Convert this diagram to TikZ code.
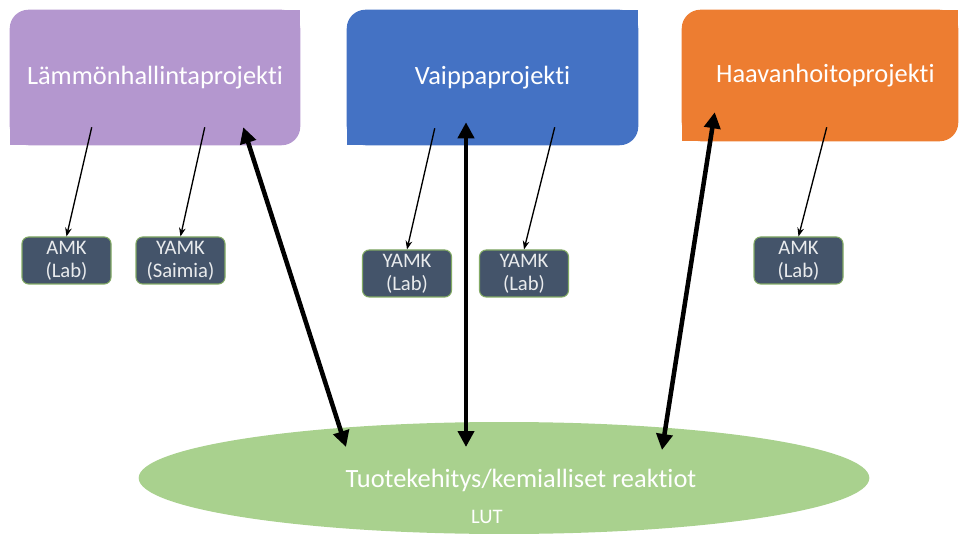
\documentclass[tikz,border=0pt]{standalone}
\usepackage{fontspec}
\setmainfont[Ligatures=NoCommon]{Carlito}
\usetikzlibrary{shapes.geometric,arrows.meta,calc,backgrounds}

\definecolor{lampurple}{RGB}{180,151,207}
\definecolor{vaiblue}{RGB}{68,114,196}
\definecolor{haaorange}{RGB}{237,125,49}
\definecolor{lutgreen}{RGB}{169,209,142}
\definecolor{slate}{RGB}{68,84,106}
\definecolor{slateedge}{RGB}{130,170,100}

\begin{document}
\begin{tikzpicture}[x=0.75pt,y=-0.75pt,
	projbox/.style={minimum height=101.25pt, inner sep=0pt, text=white,
		font=\fontsize{19.8}{23}\selectfont},
	studbox/.style={draw=slateedge, line width=0.8pt, fill=slate, rounded corners=5pt,
		minimum width=66.75pt, minimum height=35.25pt, inner sep=0pt, align=center,
		text=white!88!slate, font=\fontsize{15.5}{17}\selectfont},
	thin/.style={-{Stealth[length=6.5pt,width=5pt]}, line width=1pt},
	bigarrow/.style={{Triangle[length=12pt,width=12pt]}-{Triangle[length=12pt,width=12pt]}, line width=3.4pt}]
	\useasboundingbox (0,0) rectangle (959,534);
	
	% project boxes
	\node[projbox, minimum width=217.5pt] (lam) at (155,77.5) {Lämmönhallintaprojekti};
	\node[projbox, minimum width=218.25pt] (vai) at (492.5,77.5) {Vaippaprojekti};
	\node[projbox, minimum width=207pt, minimum height=98.25pt] (haa) at (820,75.5) {\hspace*{8pt}Haavanhoitoprojekti};
	
	\begin{scope}[on background layer]
		\foreach \b/\c in {lam/lampurple, vai/vaiblue, haa/haaorange}
		{
			\fill[\c, rounded corners=14pt] (\b.south west) rectangle (\b.north east);
			\fill[\c] (\b.south west) rectangle (\b.center);
			\fill[\c] (\b.center) rectangle (\b.north east);
		}
	\end{scope}
	
	% students
	\node[studbox] (amkA) at (66.5,260.5) {AMK\\(Lab)};
	\node[studbox] (yamkS) at (180.5,260.5) {YAMK\\(Saimia)};
	\node[studbox] (yamkA) at (407,273.5) {YAMK\\(Lab)};
	\node[studbox] (yamkB) at (524,273.5) {YAMK\\(Lab)};
	\node[studbox] (amkB) at (798.5,260.5) {AMK\\(Lab)};
	
	% LUT
	\node[ellipse, fill=lutgreen, minimum width=548pt, minimum height=84pt, inner sep=0pt] (tuote) at (504,478) {};
	\node[text=white, font=\fontsize{19.8}{22}\selectfont] (tuotetxt) at (521,480) {Tuotekehitys/kemialliset reaktiot};
	\node[text=white, font=\fontsize{15.5}{17}\selectfont] (luttxt) at (487,517) {LUT};
	
	\draw[thin] ($(lam.south west)+(82,-18)$) -- (amkA.north);
	\draw[thin] ($(lam.south west)+(195,-18)$) -- (yamkS.north);
	\draw[thin] ($(vai.south west)+(88,-17)$) -- (yamkA.north);
	\draw[thin] ($(vai.south west)+(208,-18)$) -- (yamkB.north);
	\draw[thin] ($(haa.south west)+(145,-14)$) -- (amkB.north);
	
	\draw[bigarrow] ($(lam.south east)+(-57,-18)$) -- ($(tuote.center)+(-158,-31)$);
	\draw[bigarrow] ($(vai.south)+(-26.5,-23)$) -- ($(tuote.center)+(-38,-31)$);
	\draw[bigarrow] ($(haa.south west)+(33,-29)$) -- ($(tuote.center)+(158,-28)$);
\end{tikzpicture}
\end{document}
